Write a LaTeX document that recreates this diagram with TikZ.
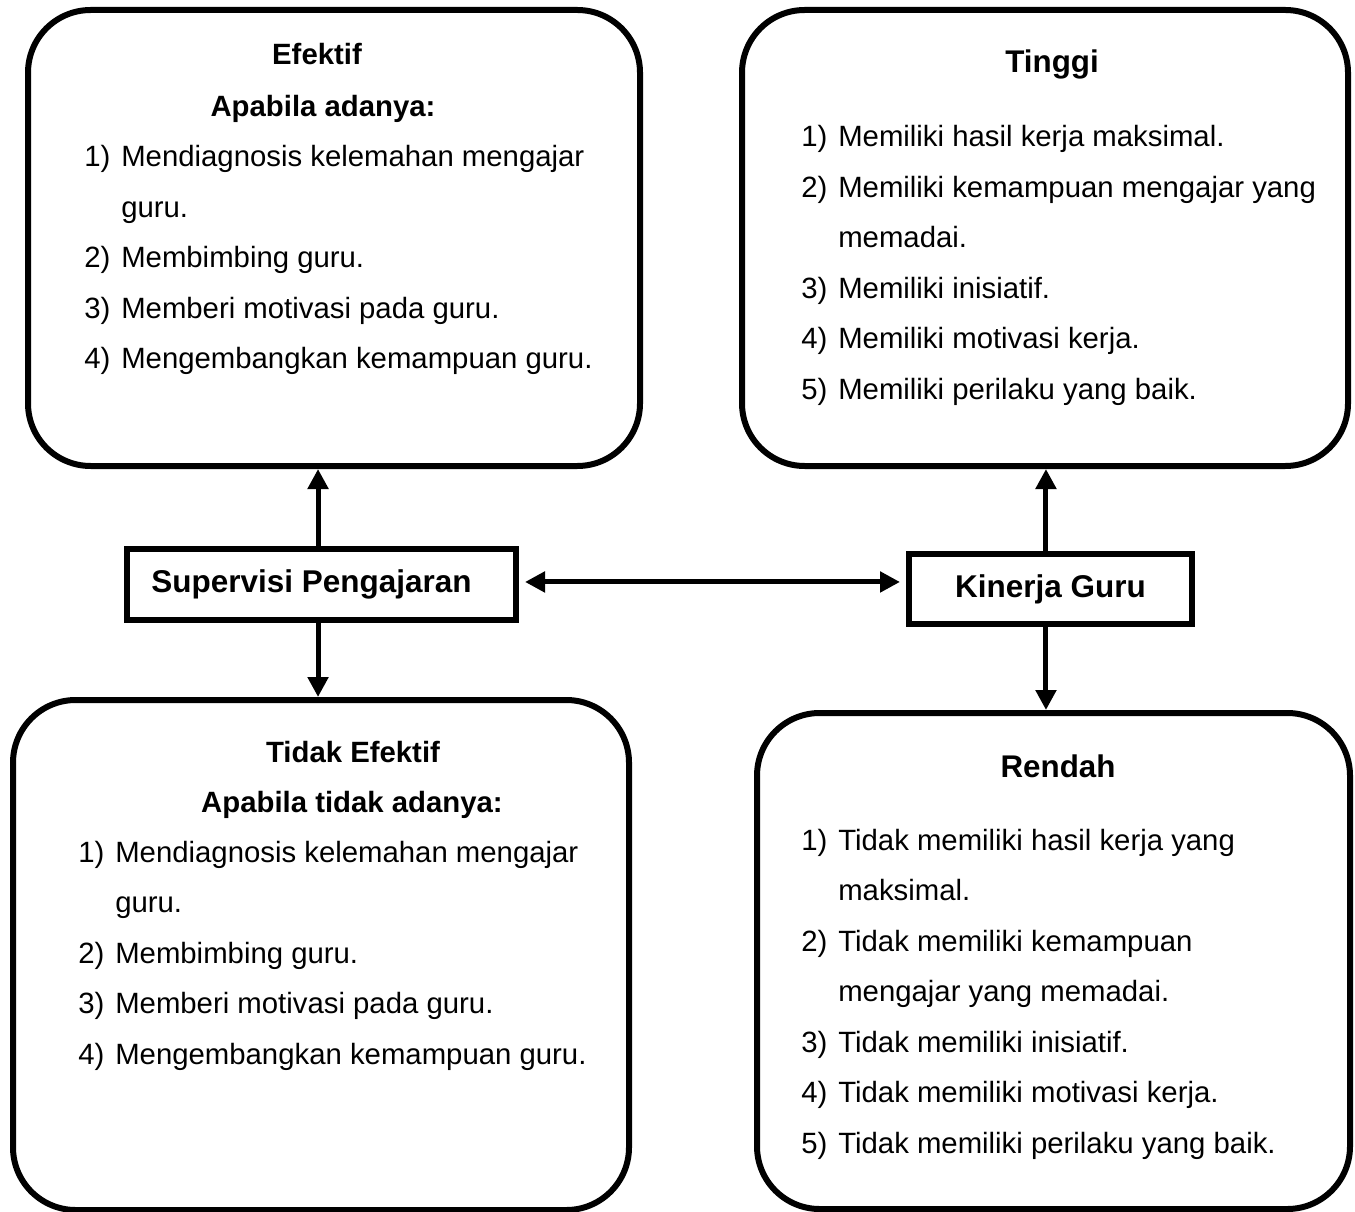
\documentclass[tikz,border=0pt]{standalone}
\usepackage{fontspec}
\setmainfont{Liberation Sans}
\usetikzlibrary{arrows.meta}
\newcommand\numcol[1]{\makebox[27.75pt][l]{#1}}
\tikzset{
  bigbox/.style={draw, line width=4.5pt, rounded corners=47pt, inner sep=0pt},
  keybox/.style={draw, line width=4.5pt, inner sep=0pt, font=\fontsize{23.6}{28}\selectfont\bfseries},
  head/.style={inner sep=0pt, anchor=base, font=\fontsize{22}{26}\selectfont\bfseries},
  headbig/.style={inner sep=0pt, anchor=base, font=\fontsize{23.5}{28}\selectfont\bfseries},
  listtext/.style={inner sep=0pt, anchor=base west, font=\fontsize{22}{37.875}\selectfont},
  tipA/.tip={Triangle[length=15pt,width=15pt]},
  conn/.style={line width=3.75pt, -tipA},
  bothconn/.style={line width=3.75pt, tipA-tipA},
}
\begin{document}
\begin{tikzpicture}[x=0.75pt, y=-0.75pt]
\useasboundingbox (0,0) rectangle (1355,1212);
\fill[white] (0,0) rectangle (1355,1212);

% big rounded boxes
\node[bigbox, minimum width=459pt, minimum height=342pt] (tl) at (334,238) {};
\node[bigbox, minimum width=454.5pt, minimum height=342pt] (tr) at (1045,238) {};
\node[bigbox, minimum width=462pt, minimum height=382.5pt] (bl) at (321,955) {};
\node[bigbox, minimum width=444.75pt, minimum height=372pt] (br) at (1053.5,961) {};

% key boxes
\node[keybox, minimum width=291.75pt, minimum height=53.25pt] (sup) at (321.5,584.5) {Supervisi Pengajaran\rule{15pt}{0pt}};
\node[keybox, minimum width=212.25pt, minimum height=52.5pt] (kin) at (1050.5,589) {Kinerja Guru};

% top-left content
\node[head] (tlh1) at (317,65) {Efektif};
\node[head] (tlh2) at (323,117) {Apabila adanya:};
\node[listtext] (tll) at (84,167) {\begin{tabular}[t]{@{}l@{}l@{}}
\numcol{1)} & Mendiagnosis kelemahan mengajar\\
 & guru.\\
\numcol{2)} & Membimbing guru.\\
\numcol{3)} & Memberi motivasi pada guru.\\
\numcol{4)} & Mengembangkan kemampuan guru.
\end{tabular}};

% top-right content
\node[headbig] (trh) at (1052,73) {Tinggi};
\node[listtext] (trl) at (801,147) {\begin{tabular}[t]{@{}l@{}l@{}}
\numcol{1)} & Memiliki hasil kerja maksimal.\\
\numcol{2)} & Memiliki kemampuan mengajar yang\\
 & memadai.\\
\numcol{3)} & Memiliki inisiatif.\\
\numcol{4)} & Memiliki motivasi kerja.\\
\numcol{5)} & Memiliki perilaku yang baik.
\end{tabular}};

% bottom-left content
\node[head] (blh1) at (353,762) {Tidak Efektif};
\node[head] (blh2) at (352,812) {Apabila tidak adanya:};
\node[listtext] (bll) at (78,862) {\begin{tabular}[t]{@{}l@{}l@{}}
\numcol{1)} & Mendiagnosis kelemahan mengajar\\
 & guru.\\
\numcol{2)} & Membimbing guru.\\
\numcol{3)} & Memberi motivasi pada guru.\\
\numcol{4)} & Mengembangkan kemampuan guru.
\end{tabular}};

% bottom-right content
\node[headbig] (brh) at (1058,777) {Rendah};
\node[listtext] (brl) at (801,850) {\begin{tabular}[t]{@{}l@{}l@{}}
\numcol{1)} & Tidak memiliki hasil kerja yang\\
 & maksimal.\\
\numcol{2)} & Tidak memiliki kemampuan\\
 & mengajar yang memadai.\\
\numcol{3)} & Tidak memiliki inisiatif.\\
\numcol{4)} & Tidak memiliki motivasi kerja.\\
\numcol{5)} & Tidak memiliki perilaku yang baik.
\end{tabular}};

% connectors
\draw[conn] ([xshift=-2.6pt]sup.north) -- ([xshift=-2.6pt]sup.north |- tl.south);
\draw[conn] ([xshift=-2.6pt]sup.south) -- ([xshift=-2.6pt]sup.south |- bl.north);
\draw[bothconn, shorten <=4.5pt, shorten >=4.5pt] ([yshift=1.9pt]sup.east) -- ([yshift=1.9pt]sup.east -| kin.west);
\draw[conn] ([xshift=-3.4pt]kin.north) -- ([xshift=-3.4pt]kin.north |- tr.south);
\draw[conn] ([xshift=-3.4pt]kin.south) -- ([xshift=-3.4pt]kin.south |- br.north);
\end{tikzpicture}
\end{document}
